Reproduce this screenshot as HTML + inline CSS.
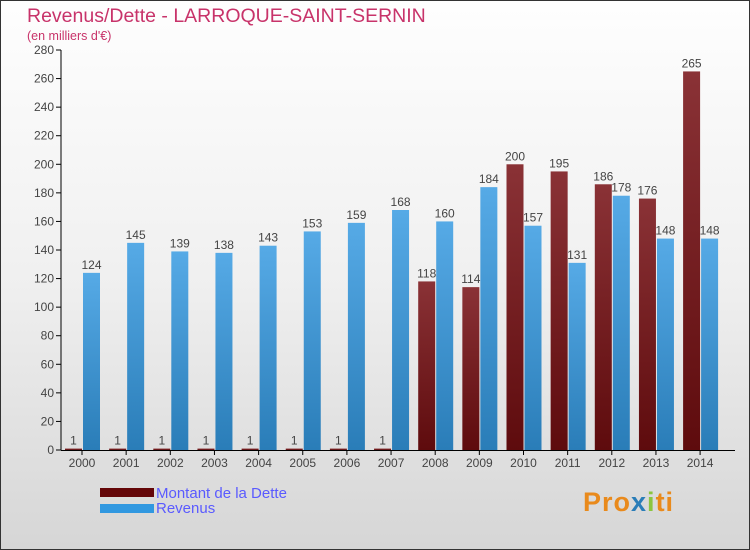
<!DOCTYPE html>
<html><head><meta charset="utf-8"><style>
body{margin:0}
#wrap{position:relative;width:748px;height:548px;border:1px solid #333;background:linear-gradient(#fefefe,#f0f0f0 50%,#d6d6d6);font-family:"Liberation Sans",sans-serif;overflow:hidden}
.t{position:absolute;color:#c8336a}
</style></head><body>
<div id="wrap">
<div class="t" style="left:26px;top:4px;font-size:19.5px">Revenus/Dette - LARROQUE-SAINT-SERNIN</div>
<div class="t" style="left:26px;top:28px;font-size:12.5px">(en milliers d'€)</div>
<svg id="svg" width="750" height="550" style="position:absolute;left:-1px;top:-1px">
<defs>
<linearGradient id="gd" x1="0" y1="0" x2="0" y2="1"><stop offset="0" stop-color="#8a3236"/><stop offset="1" stop-color="#5e0b0d"/></linearGradient>
<linearGradient id="gr" x1="0" y1="0" x2="0" y2="1"><stop offset="0" stop-color="#56aae6"/><stop offset="1" stop-color="#2a7db8"/></linearGradient>
</defs>
</svg>
<div style="position:absolute;left:99px;top:487px;width:54px;height:9px;background:#640608"></div>
<div style="position:absolute;left:99px;top:503px;width:54px;height:9px;background:#3198e0"></div>
<div style="position:absolute;left:155px;top:484px;font-size:15px;color:#5a5aff">Montant de la Dette</div>
<div style="position:absolute;left:155px;top:499px;font-size:15px;color:#5a5aff">Revenus</div>
<div style="position:absolute;left:582px;top:486px;font-size:27px;font-weight:bold;color:#e98a1c;letter-spacing:1px">Pro<span style="color:#2a7db8">x</span><span style="color:#8bc53f">i</span>ti</div>
</div>
<script>
const years=[2000,2001,2002,2003,2004,2005,2006,2007,2008,2009,2010,2011,2012,2013,2014];
const debt=[1,1,1,1,1,1,1,1,118,114,200,195,186,176,265];
const revenue=[124,145,139,138,143,153,159,168,160,184,157,131,178,148,148];
const ticks=[0,20,40,60,80,100,120,140,160,180,200,220,240,260,280];
const svg=document.getElementById('svg');
const NS='http://www.w3.org/2000/svg';
const y=v=>450-v*400/280;
const x=i=>65+i*44.15;
const BW=17;
function mk(t,a){const e=document.createElementNS(NS,t);for(const k in a)e.setAttribute(k,a[k]);svg.appendChild(e);return e;}
ticks.forEach(t=>{
  const l=mk('line',{x1:56,x2:61,y1:y(t),y2:y(t),stroke:'#000'});
  
  
  const tx=mk('text',{x:54,y:y(t)+4,'text-anchor':'end','font-size':12,fill:'#444','font-family':'Liberation Sans'});
  tx.textContent=t;
  
  
});
const ax=mk('line',{x1:61,x2:61,y1:50,y2:450,stroke:'#000'});


const bx=mk('line',{x1:61,x2:735,y1:450.5,y2:450.5,stroke:'#000'});


years.forEach((yr,i)=>{
  const tk=mk('line',{x1:x(i)+BW,x2:x(i)+BW,y1:450,y2:455,stroke:'#000'});
  
  
  const tx=mk('text',{x:x(i)+BW,y:467,'text-anchor':'middle','font-size':12,fill:'#444','font-family':'Liberation Sans'});
  tx.textContent=yr;
  
  
  [[debt[i],x(i),'url(#gd)','bar-debt'],[revenue[i],x(i)+BW+1,'url(#gr)','bar-revenue']].forEach(([v,bx0,f,n])=>{
    const r=mk('rect',{x:bx0,y:y(v),width:BW,height:450-y(v),fill:f});
    
    
    const lb=mk('text',{x:bx0+BW/2,y:y(v)-4,'text-anchor':'middle','font-size':12,fill:'#444','font-family':'Liberation Sans'});
    lb.textContent=v;
    
    
  });
});
</script>
</body></html>
